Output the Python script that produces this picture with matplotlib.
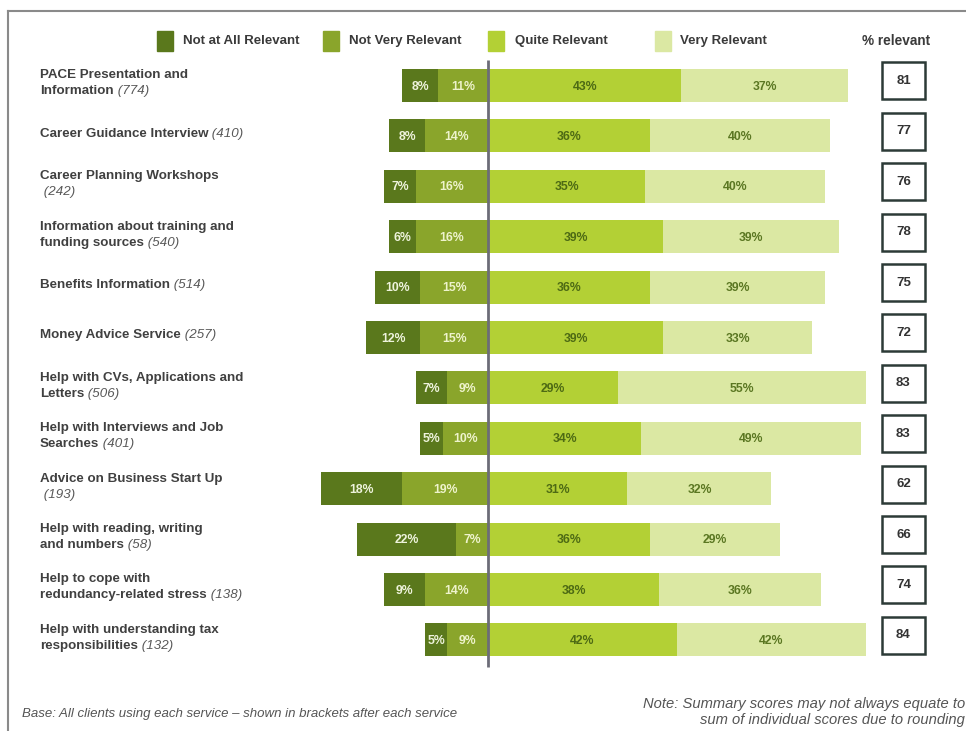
import matplotlib.pyplot as plt
from matplotlib.patches import Rectangle
from matplotlib.transforms import blended_transform_factory

plt.rcParams['font.family'] = ['Liberation Sans', 'DejaVu Sans']

# service names (bold) and number of clients (italic, in brackets)
services = [
    "PACE Presentation and\nInformation",
    "Career Guidance Interview",
    "Career Planning Workshops\n",
    "Information about training and\nfunding sources",
    "Benefits Information",
    "Money Advice Service",
    "Help with CVs, Applications and\nLetters",
    "Help with Interviews and Job\nSearches",
    "Advice on Business Start Up\n",
    "Help with reading, writing\nand numbers",
    "Help to cope with\nredundancy-related stress",
    "Help with understanding tax\nresponsibilities",
]
clients = [774, 410, 242, 540, 514, 257, 506, 401, 193, 58, 138, 132]

not_at_all = [8, 8, 7, 6, 10, 12, 7, 5, 18, 22, 9, 5]
not_very = [11, 14, 16, 16, 15, 15, 9, 10, 19, 7, 14, 9]
quite = [43, 36, 35, 39, 36, 39, 29, 34, 31, 36, 38, 42]
very = [37, 40, 40, 39, 39, 33, 55, 49, 32, 29, 36, 42]
pct_relevant = [81, 77, 76, 78, 75, 72, 83, 83, 62, 66, 74, 84]

legend_names = ["Not at All Relevant", "Not Very Relevant", "Quite Relevant", "Very Relevant"]
colors = ["#5a781c", "#8aa52b", "#b3d035", "#dbe8a3"]
text_colors = ["#eef3dc", "#eef3cc", "#4d6a14", "#5b7722"]

W, H = 966, 731
CX, SCALE = 488, 4.5          # centre line pixel, pixels per percent
ROW0, STEP = 85.5, 50.4       # first row centre, row spacing (pixels)

fig = plt.figure(figsize=(W / 100, H / 100), dpi=100)
ax = fig.add_axes([0, 0, 1, 1])
ax.set_xlim(-CX / SCALE, (W - CX) / SCALE)
ax.set_ylim((H - ROW0) / STEP, -ROW0 / STEP)
ax.axis('off')


def fx(px):
    return px / W


def fy(py):
    return 1 - py / H


def row_of(py):
    return (py - ROW0) / STEP


rows = list(range(len(services)))
bh = 33 / STEP

# diverging stacked bars
left_nv = [-v for v in not_very]
left_na = [-(a + b) for a, b in zip(not_at_all, not_very)]
segments = [
    (not_at_all, left_na),
    (not_very, left_nv),
    (quite, [0] * len(rows)),
    (very, quite),
]
for k, (vals, lefts) in enumerate(segments):
    ax.barh(rows, vals, left=lefts, height=bh, color=colors[k], edgecolor='none')
    for r, v, l in zip(rows, vals, lefts):
        ax.text(l + v / 2, r + 0.02, f"{v}%", ha='center', va='center',
                fontsize=8.8, fontweight='bold', color=text_colors[k])

# centre axis line
ax.plot([0, 0], [row_of(60), row_of(667)], color='#6c6c78', lw=2, solid_capstyle='butt')

# row labels: bold name, italic count after the last line
lbl_tf = blended_transform_factory(fig.transFigure, ax.transData)
line_h = 16 / STEP
LFS = 9.6
for r, name, n in zip(rows, services, clients):
    lines = name.split("\n")
    nl = len(lines)
    y0 = r - 0.04 - (nl - 1) * line_h / 2
    for j, ln in enumerate(lines[:-1]):
        ax.text(fx(40), y0 + j * line_h, ln, transform=lbl_tf, ha='left', va='center',
                fontsize=LFS, fontweight='bold', color='#404040')
    last = lines[-1]
    ylast = y0 + (nl - 1) * line_h
    if last:
        t = ax.text(fx(40), ylast, last, transform=lbl_tf, ha='left', va='center',
                    fontsize=LFS, fontweight='bold', color='#404040')
        ax.annotate(f" ({n})", xy=(1, 0), xycoords=t, ha='left', va='bottom',
                    fontsize=LFS, fontstyle='italic', color='#585858')
    else:
        ax.text(fx(40), ylast, f" ({n})", transform=lbl_tf, ha='left', va='center',
                fontsize=LFS, fontstyle='italic', color='#585858')

# % relevant boxes
bw, bxh = 43, 37
for r, p in zip(rows, pct_relevant):
    yc = r - 4.5 / STEP
    ax.add_patch(Rectangle((fx(882), yc - bxh / STEP / 2), bw / W, bxh / STEP,
                           transform=lbl_tf, fill=False, edgecolor='#2c3a37', lw=1.8))
    ax.text(fx(882 + bw / 2), yc, str(p), transform=lbl_tf, ha='center', va='center',
            fontsize=9.5, fontweight='bold', color='#333333')

# legend
for name, c, sx, tx in zip(legend_names, colors, [157, 323, 488, 655], [183, 349, 515, 680]):
    fig.patches.append(Rectangle((fx(sx), fy(51)), 16 / W, 20 / H,
                                 transform=fig.transFigure, color=c))
    fig.text(fx(tx), fy(41), name, ha='left', va='center',
             fontsize=9.5, fontweight='bold', color='#3a3a3a')
fig.text(fx(862), fy(41), "% relevant", ha='left', va='center',
         fontsize=9.8, fontweight='bold', color='#3a3a3a')

# frame lines (top and left)
fig.add_artist(plt.Line2D([fx(8), 1], [fy(11), fy(11)], transform=fig.transFigure,
                          color='#8a8a8a', lw=1.5))
fig.add_artist(plt.Line2D([fx(8), fx(8)], [fy(11), 0], transform=fig.transFigure,
                          color='#8a8a8a', lw=1.5))

# footnotes
fig.text(fx(22), fy(714), "Base: All clients using each service \u2013 shown in brackets after each service",
         ha='left', va='center', fontsize=9.5, fontstyle='italic', color='#555555')
fig.text(fx(965), fy(704), "Note: Summary scores may not always equate to",
         ha='right', va='center', fontsize=10.6, fontstyle='italic', color='#555555')
fig.text(fx(965), fy(720), "sum of individual scores due to rounding",
         ha='right', va='center', fontsize=10.6, fontstyle='italic', color='#555555')

fig.savefig("out.png", dpi=100)
